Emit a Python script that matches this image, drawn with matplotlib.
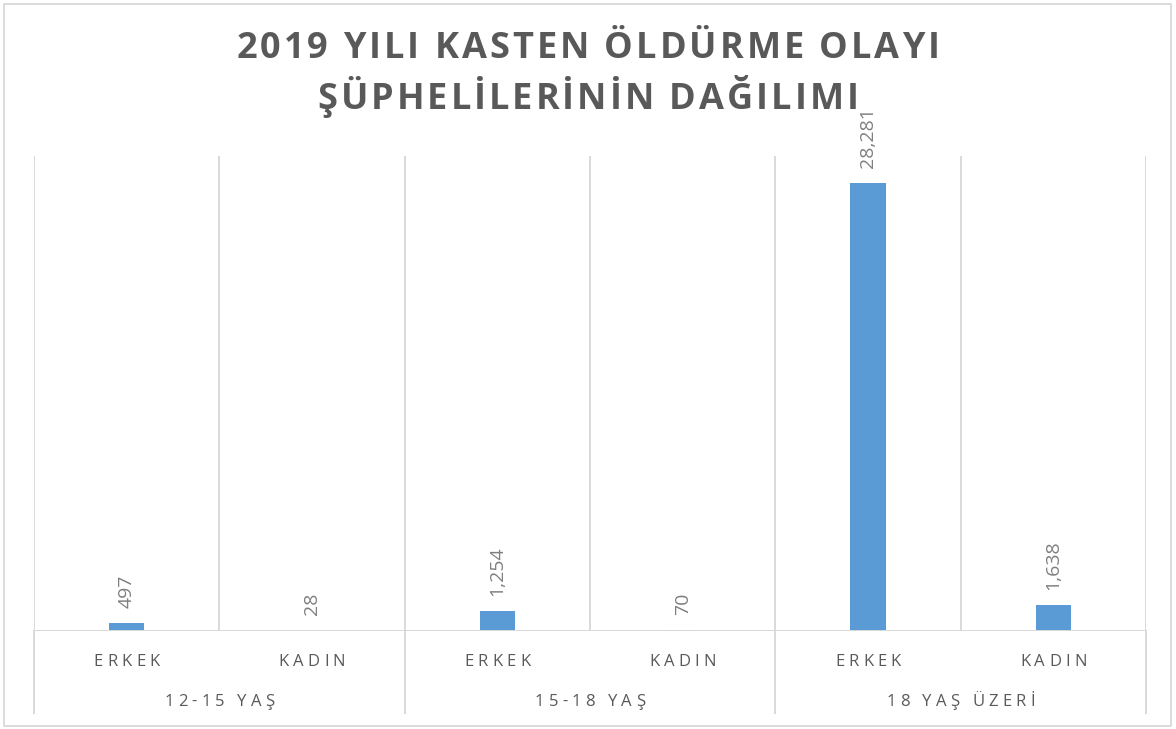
import matplotlib
matplotlib.use("Agg")
import matplotlib.pyplot as plt
import matplotlib.patches as mpatches
from matplotlib import font_manager, ft2font

# 数据
groups = ["12-15 YAŞ", "15-18 YAŞ", "18 YAŞ ÜZERİ"]
genders = ["ERKEK", "KADIN"]
values = [497, 28, 1254, 70, 28281, 1638]
title_lines = ["2019 YILI KASTEN ÖLDÜRME OLAYI", "ŞÜPHELİLERİNİN DAĞILIMI"]

W, H = 1176, 729
DPI = 100
TXT = "#595959"
GRID = "#D9D9D9"
BAR = "#5B9BD5"

fig = plt.figure(figsize=(W / DPI, H / DPI), dpi=DPI)
ax = fig.add_axes([34 / W, 1 - 631 / H, (1146 - 34) / W, (631 - 156) / H])


def _advances(s, size, weight):
    """每个字符的前进宽度（像素）"""
    fp = font_manager.FontProperties(family="Open Sans", weight=weight)
    font = ft2font.FT2Font(font_manager.findfont(fp))
    font.set_size(size, DPI)
    return [font.load_char(ord(c)).linearHoriAdvance / 65536 for c in s]


def spaced_text(x, y, s, size, spacing, weight="normal", color=TXT):
    """带字间距的文字，x/y 为图中像素坐标（x 居中，y 为基线）"""
    adv = _advances(s, size, weight)
    total = sum(adv) + spacing * (len(s) - 1)
    cx = x - total / 2
    for ch, a in zip(s, adv):
        if ch != " ":
            fig.text((cx + a / 2) / W, 1 - y / H, ch, ha="center", va="baseline",
                     fontsize=size, fontweight=weight, color=color,
                     family="Open Sans")
        cx += a + spacing


# 柱子
xs = list(range(len(values)))
ax.bar(xs, values, width=0.19, color=BAR, zorder=3)
for x, v in zip(xs, values):
    ax.annotate(f"{v:,}", xy=(x, v), xytext=(0, 11), textcoords="offset points",
                rotation=90, ha="center", va="bottom", fontsize=14,
                color="#7F7F7F", family="Open Sans")

ax.set_xlim(-0.5, len(values) - 0.5)
ax.set_ylim(0, 30000)
for s in ax.spines.values():
    s.set_visible(False)
ax.set_xticks([])
ax.set_yticks([])

# 分隔竖线
for b in range(len(values) + 1):
    ax.axvline(b - 0.5, color=GRID, lw=1.4, zorder=1)
ax.axhline(0, color=GRID, lw=1.4, zorder=4)

# 分组线延伸到下方标签区
trans = ax.get_xaxis_transform()
for g in range(len(groups) + 1):
    ax.plot([g * 2 - 0.5, g * 2 - 0.5], [0, -0.1726], color=GRID, lw=1.4,
            transform=trans, clip_on=False)

# 多级分类标签
x0, x1 = 34, 1146
cw = (x1 - x0) / len(values)
for i in range(len(values)):
    spaced_text(x0 + cw * (i + 0.5), 666, genders[i % 2], 12, 4.2)
for g, name in enumerate(groups):
    spaced_text(x0 + cw * (2 * g + 1), 706, name, 12, 4.2)

# 标题
spaced_text(W / 2, 58, title_lines[0], 26, 3.0, weight="bold")
spaced_text(W / 2, 109, title_lines[1], 26, 3.0, weight="bold")

# 外框
fig.patches.append(mpatches.Rectangle((4 / W, 3 / H), 1167 / W, 722 / H,
                                      transform=fig.transFigure, fill=False,
                                      edgecolor=GRID, lw=1.3))

fig.savefig("out.png", dpi=DPI)
